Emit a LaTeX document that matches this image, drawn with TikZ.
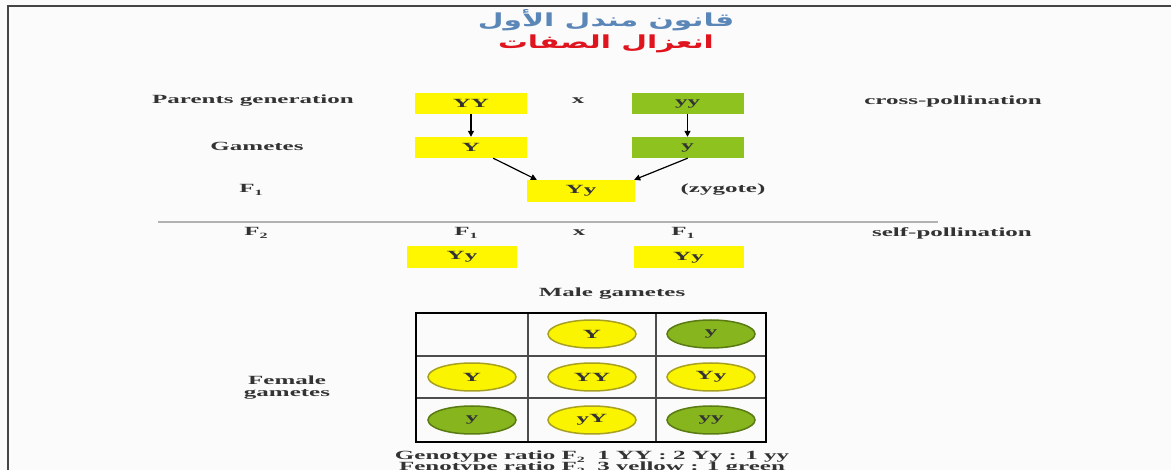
\documentclass[tikz,border=0pt]{standalone}
\usepackage{fontspec}
\setmainfont{Liberation Serif}
\newfontfamily\lbl[FakeStretch=2.0]{Liberation Serif}
\newfontfamily\arabicfont[Script=Arabic,FakeStretch=1.65]{DejaVu Sans}
\TeXXeTstate=1
\usetikzlibrary{arrows.meta,shapes.geometric}
\definecolor{ink}{HTML}{333333}
\definecolor{bgc}{HTML}{FBFBFB}
\definecolor{framec}{HTML}{454545}
\definecolor{boxyellow}{HTML}{FFF700}
\definecolor{boxgreen}{HTML}{8DC21F}
\definecolor{ellyellow}{HTML}{FAF400}
\definecolor{ellyedge}{HTML}{A8A020}
\definecolor{ellgreen}{HTML}{86B51E}
\definecolor{ellgedge}{HTML}{5A7A12}
\definecolor{titleblue}{HTML}{5B86B8}
\definecolor{titlered}{HTML}{E0141E}
\newcommand\lowsub[1]{\raisebox{-0.45ex}{\fontsize{8}{8}\selectfont #1}}
\begin{document}
\begin{tikzpicture}[x=1pt,y=-1pt,
  lab/.style={font=\lbl\bfseries\fontsize{12.5}{14}\selectfont, text=ink, inner sep=0pt},
  allelebox/.style={minimum width=112pt, minimum height=21pt, inner sep=0pt,
    font=\lbl\bfseries\fontsize{12.5}{14}\selectfont, text=ink},
  ybox/.style={allelebox, fill=boxyellow},
  gbox/.style={allelebox, fill=boxgreen},
  gam/.style={ellipse, minimum width=88pt, minimum height=28pt, inner sep=0pt,
    line width=1.5pt, font=\lbl\bfseries\fontsize{12.5}{14}\selectfont, text=ink},
  yel/.style={gam, fill=ellyellow, draw=ellyedge},
  grn/.style={gam, fill=ellgreen, draw=ellgedge},
  arr/.style={-{Triangle[length=6pt,width=6pt]}, line width=1.2pt, draw=black},
  gridout/.style={line width=2.6pt, draw=black},
  gridin/.style={line width=1.3pt, draw=black!70}]
\useasboundingbox (0,0) rectangle (1171,470);
\clip (0,0) rectangle (1171,470);
\fill[bgc] (0,0) rectangle (1171,470);
% window frame
\draw[framec, line width=2pt] (7.5,470) -- (7.5,6.5) -- (1171,6.5);

% titles
\node[font=\arabicfont\bfseries\fontsize{18}{20}\selectfont, text=titleblue] (t1) at (606,20) {\beginR قانون مندل الأول\endR};
\node[font=\arabicfont\bfseries\fontsize{18}{20}\selectfont, text=titlered] (t2) at (606,44) {\beginR انعزال الصفات\endR};

% parents
\node[lab] (pg) at (253,101) {Parents generation};
\node[ybox] (pYY) at (471,103.5) {YY};
\node[lab] (px) at (578,101) {x};
\node[gbox] (pyy) at (687.5,103.5) {yy};
\node[lab] (cp) at (953,101) {cross-pollination};

% gametes
\node[lab] (gm) at (257,146) {Gametes};
\node[ybox] (gY) at (471,147.5) {Y};
\node[gbox] (gy) at (687.5,147.5) {y};

% F1
\node[lab] (f1l) at (251,190) {F\lowsub{1}};
\node[ybox, minimum width=108pt, minimum height=22pt] (f1) at (581,191) {Yy};
\node[lab] (zy) at (723,190) {(zygote)};

\draw[arr] (pYY) -- (gY);
\draw[arr] (pyy) -- (gy);
\draw[arr] ([xshift=-34pt]gY.south east) -- ([xshift=10pt]f1.north west);
\draw[arr] ([xshift=-56pt]gy.south east) -- ([xshift=-1pt]f1.north east);

% separator
\coordinate (sepL) at (158,222);
\coordinate (sepR) at (938,222);
\draw[black!30, line width=1.8pt] (sepL) -- (sepR);

% F2 cross
\node[lab] (f2l) at (256,233) {F\lowsub{2}};
\node[lab] (f1a) at (466,233) {F\lowsub{1}};
\node[lab] (f2x) at (579,233) {x};
\node[lab] (f1b) at (683,233) {F\lowsub{1}};
\node[lab] (sp) at (952,233) {self-pollination};
\node[ybox, minimum width=110pt, minimum height=22pt] (f1L) at (462,257) {Yy};
\node[ybox, minimum width=110pt, minimum height=22pt] (f1R) at (688.5,257.5) {Yy};

% Punnett square
\node[lab] (mg) at (612,294) {Male gametes};
\node[lab, align=center, font=\lbl\bfseries\fontsize{12.5}{12}\selectfont] (fg) at (287,388) {Female\\gametes};
\draw[gridin] (528,313) -- (528,442) (656,313) -- (656,442)
              (416,356) -- (766,356) (416,398) -- (766,398);
\draw[gridout] (416,313) rectangle (766,442);

\node[yel] (mY) at (592,334) {Y};
\node[grn] (my) at (711,334) {y};
\node[yel] (fY) at (472,377) {Y};
\node[grn] (fy) at (472,420) {y};
\node[yel] (cYY) at (592,377) {YY};
\node[yel] (cYy) at (711,377) {Yy};
\node[yel] (cyY) at (592,420) {yY};
\node[grn] (cyy) at (711,420) {yy};

% ratios
\node[lab] (geno) at (592,457) {Genotype ratio F\lowsub{2}\ \ 1 YY : 2 Yy : 1 yy};
\node[lab] (feno) at (592,468) {Fenotype ratio F\lowsub{2}\ \ 3 yellow : 1 green};
\end{tikzpicture}
\end{document}
